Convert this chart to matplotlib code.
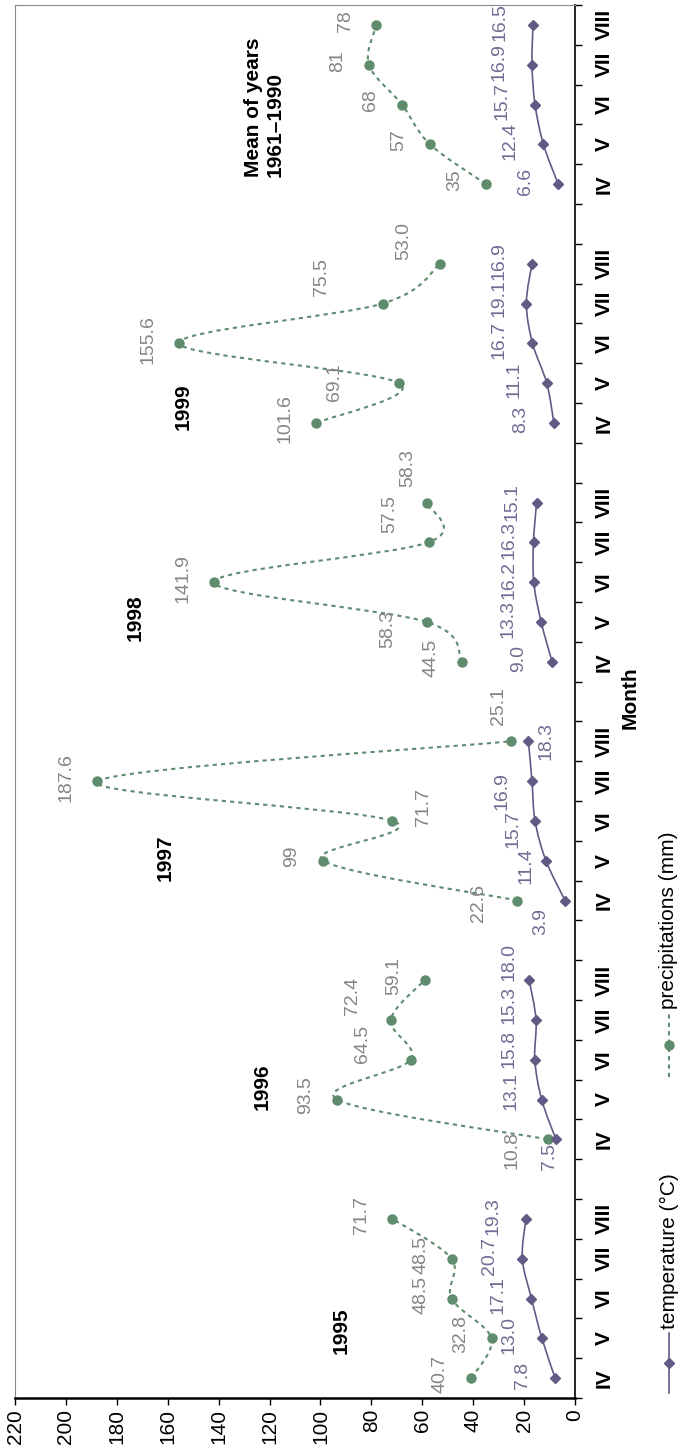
import matplotlib
matplotlib.use("Agg")
import matplotlib.pyplot as plt
from matplotlib.path import Path
from matplotlib.patches import PathPatch
from matplotlib.lines import Line2D

plt.rcParams['font.family'] = ['Liberation Sans', 'DejaVu Sans']

months = ["IV", "V", "VI", "VII", "VIII"]
periods = ["1995", "1996", "1997", "1998", "1999", "Mean of years\n1961\u20131990"]

# mean monthly temperature (C)
temp_1995 = [7.8, 13.0, 17.1, 20.7, 19.3]
temp_1996 = [7.5, 13.1, 15.8, 15.3, 18.0]
temp_1997 = [3.9, 11.4, 15.7, 16.9, 18.3]
temp_1998 = [9.0, 13.3, 16.2, 16.3, 15.1]
temp_1999 = [8.3, 11.1, 16.7, 19.1, 16.9]
temp_mean = [6.6, 12.4, 15.7, 16.9, 16.5]

# monthly precipitation (mm), kept as printed
prec_1995 = ["40.7", "32.8", "48.5", "48.5", "71.7"]
prec_1996 = ["10.8", "93.5", "64.5", "72.4", "59.1"]
prec_1997 = ["22.6", "99", "71.7", "187.6", "25.1"]
prec_1998 = ["44.5", "58.3", "141.9", "57.5", "58.3"]
prec_1999 = ["101.6", "69.1", "155.6", "75.5", "53.0"]
prec_mean = ["35", "57", "68", "81", "78"]

temps = [temp_1995, temp_1996, temp_1997, temp_1998, temp_1999, temp_mean]
precs = [prec_1995, prec_1996, prec_1997, prec_1998, prec_1999, prec_mean]

TEMP_C = "#625a85"
TEMP_TXT = "#716c94"
PREC_C = "#5e8c6c"
PREC_TXT = "#858585"

# label offsets in pixels (right, down); anything not listed uses the default
prec_off_default = (-31, -4)
temp_off_default = (-33, -3)
prec_off = {(1, 0): (-36, 11), (1, 2): (-48, -16), (1, 3): (-38, -24),
            (2, 0): (-39, 3), (2, 2): (31, -14), (2, 4): (-13, -35),
            (3, 1): (-39, 7), (3, 3): (-39, -28), (3, 4): (-19, -35),
            (4, 1): (-65, -1), (4, 3): (-61, -26), (4, 4): (-36, -23)}
temp_off = {(1, 0): (-6, 17), (1, 1): (-31, -8), (1, 2): (-26, -11),
            (1, 3): (-27, -15), (1, 4): (-20, -18),
            (2, 0): (-24, 21), (2, 1): (-20, 5), (2, 2): (-22, 8),
            (2, 3): (-30, 10), (2, 4): (18, 0),
            (3, 2): (-25, -2), (3, 3): (-25, -2), (3, 4): (-25, -1),
            (4, 3): (-27, -5)}

# where the period captions sit: (value, category position)
period_pos = [(92, 1.18), (123, 7.32), (161, 13.08), (173, 19.11), (154, 24.4), (122, 30.19)]


def smooth_path(xs, ys):
    pts = list(zip(xs, ys))
    n = len(pts)
    verts = [pts[0]]
    codes = [Path.MOVETO]
    for i in range(n - 1):
        p0 = pts[max(i - 1, 0)]
        p1 = pts[i]
        p2 = pts[i + 1]
        p3 = pts[min(i + 2, n - 1)]
        c1 = (p1[0] + (p2[0] - p0[0]) / 6, p1[1] + (p2[1] - p0[1]) / 6)
        c2 = (p2[0] - (p3[0] - p1[0]) / 6, p2[1] - (p3[1] - p1[1]) / 6)
        verts += [c1, c2, p2]
        codes += [Path.CURVE4] * 3
    return Path(verts, codes)


fig = plt.figure(figsize=(6.81, 14.47), dpi=100)
ax = fig.add_axes([15 / 681, 49 / 1447, 560 / 681, 1393 / 1447])

ncat = len(periods) * 6 - 1
ax.set_xlim(220, 0)
ax.set_ylim(-0.5, ncat - 0.5)

for g in range(len(periods)):
    pos = [g * 6 + m for m in range(len(months))]
    tv = temps[g]
    pv = [float(s) for s in precs[g]]

    ax.add_patch(PathPatch(smooth_path(pv, pos), fill=False, edgecolor=PREC_C,
                           lw=1.5, linestyle=(0, (2, 2)), zorder=2))
    ax.plot(pv, pos, ls="none", marker="o", ms=6.5, color=PREC_C, zorder=3)

    ax.add_patch(PathPatch(smooth_path(tv, pos), fill=False, edgecolor=TEMP_C,
                           lw=1.2, zorder=2))
    ax.plot(tv, pos, ls="none", marker="D", ms=5, color=TEMP_C, zorder=3)

    for m in range(len(months)):
        dx, dy = prec_off.get((g, m), prec_off_default)
        ax.annotate(precs[g][m], (pv[m], pos[m]), xytext=(dx, -dy),
                    textcoords="offset pixels", rotation=90, ha="center",
                    va="center", fontsize=14, color=PREC_TXT)
        dx, dy = temp_off.get((g, m), temp_off_default)
        ax.annotate(f"{tv[m]:.1f}", (tv[m], pos[m]), xytext=(dx, -dy),
                    textcoords="offset pixels", rotation=90, ha="center",
                    va="center", fontsize=14, color=TEMP_TXT)

    px, py = period_pos[g]
    if "\n" in periods[g]:
        ax.text(px, py, periods[g], rotation=90, rotation_mode="anchor",
                ha="left", va="center", multialignment="left",
                fontsize=15, fontweight="bold")
    else:
        ax.text(px, py, periods[g], rotation=90, ha="center", va="center",
                fontsize=15, fontweight="bold")

# value axis along the bottom
ax.set_xticks(range(0, 221, 20))
ax.tick_params(axis="x", labelrotation=90, labelsize=15, length=5, width=1,
               direction="out", pad=3)

# month axis along the right
ax.yaxis.tick_right()
ticks = []
labels = []
for g in range(len(periods)):
    for m, name in enumerate(months):
        ticks.append(g * 6 + m)
        labels.append(name)
ax.set_yticks(ticks)
ax.set_yticklabels(labels, rotation=90, fontsize=15, fontweight="bold")
for lab in ax.get_yticklabels():
    lab.set_va("center")
ax.set_yticks([i - 0.5 for i in range(ncat + 1)], minor=True)
ax.tick_params(axis="y", which="major", length=0, pad=14)
ax.tick_params(axis="y", which="minor", length=5, width=1, direction="out")
ax.text(1.098, 0.5025, "Month", transform=ax.transAxes, rotation=90,
        ha="center", va="center", fontsize=15, fontweight="bold")

ax.spines["top"].set_color("#888888")
ax.spines["top"].set_linewidth(0.8)
ax.spines["left"].set_color("#888888")
ax.spines["left"].set_linewidth(0.8)
ax.spines["right"].set_linewidth(1.2)
ax.spines["bottom"].set_linewidth(1.8)

# legend, drawn upright with the rest of the chart
lx = 669 / 681


def fy(y):
    return (1447 - y) / 1447


fig.add_artist(Line2D([lx, lx], [fy(1393), fy(1333)], transform=fig.transFigure,
                      color=TEMP_C, lw=1.2))
fig.add_artist(Line2D([lx], [fy(1363)], transform=fig.transFigure, color=TEMP_C,
                      marker="D", ms=5))
fig.text(lx, fy(1329), "temperature (\u00b0C)", rotation=90, ha="center",
         va="bottom", fontsize=15)
fig.add_artist(Line2D([lx, lx], [fy(1077), fy(1013)], transform=fig.transFigure,
                      color=PREC_C, lw=1.5, linestyle=(0, (2, 2))))
fig.add_artist(Line2D([lx], [fy(1045)], transform=fig.transFigure, color=PREC_C,
                      marker="o", ms=6.5))
fig.text(lx, fy(1009), "precipitations (mm)", rotation=90, ha="center",
         va="bottom", fontsize=15)

fig.savefig("out.png", dpi=100)
